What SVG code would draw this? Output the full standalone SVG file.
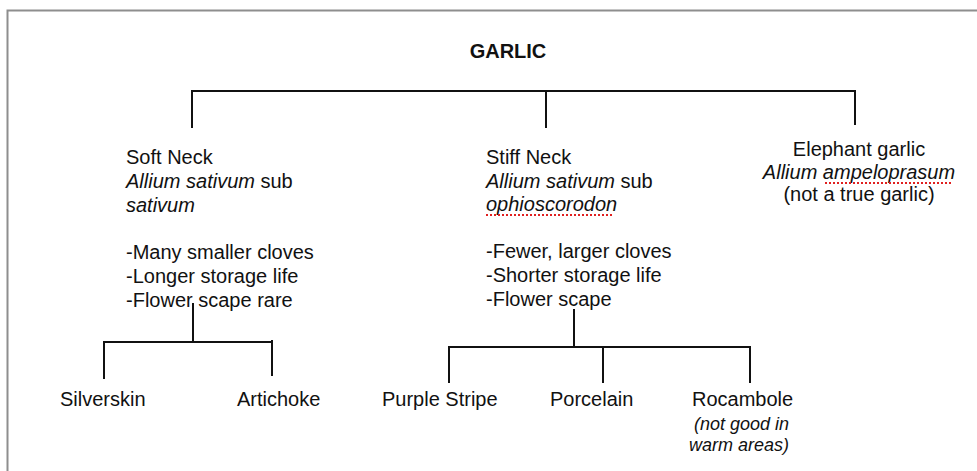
<svg xmlns="http://www.w3.org/2000/svg" width="977" height="471" viewBox="0 0 977 471">
<style>
text{font-family:"Liberation Sans",Arial,sans-serif;font-size:20px;fill:#111}
.i{font-style:italic}
.b{font-weight:bold}
.s{font-size:18px}
.c{stroke:#111;stroke-width:2;fill:none}
.sp{stroke:#e02020;stroke-width:2;stroke-dasharray:2 2;fill:none}
</style>
<rect width="977" height="471" fill="#fff"/>
<path d="M7.5 471V10.5H977" stroke="#8e8e8e" stroke-width="2" fill="none"/>
<g id="connectors">
<path class="c" d="M192 128V91H855V125M546 91V128"/>
<path class="c" d="M193 303V342M104 379V342H272M272 340V376"/>
<path class="c" d="M574 309V347M449 383V347H750V383M603 347V383"/>
</g>
<g id="garlic"><text class="b" x="508" y="58" text-anchor="middle">GARLIC</text></g>
<g id="softneck">
<text x="126" y="164">Soft Neck</text>
<text x="126" y="188"><tspan class="i">Allium sativum</tspan> sub</text>
<text x="126" y="212" class="i">sativum</text>
<text x="126" y="259">-Many smaller cloves</text>
<text x="126" y="283">-Longer storage life</text>
<text x="126" y="307">-Flower scape rare</text>
</g>
<g id="stiffneck">
<text x="486" y="164">Stiff Neck</text>
<text x="486" y="188"><tspan class="i">Allium sativum</tspan> sub</text>
<text x="486" y="211" class="i">ophioscorodon</text>
<path class="sp" d="M486 215H614"/>
<text x="486" y="258">-Fewer, larger cloves</text>
<text x="486" y="282">-Shorter storage life</text>
<text x="486" y="306">-Flower scape</text>
</g>
<g id="elephant">
<text x="859" y="156" text-anchor="middle">Elephant garlic</text>
<text x="859" y="179" text-anchor="middle" class="i">Allium ampeloprasum</text>
<path class="sp" d="M825 183H953"/>
<text x="859" y="201" text-anchor="middle">(not a true garlic)</text>
</g>
<g id="silverskin"><text x="60" y="406">Silverskin</text></g>
<g id="artichoke"><text x="237" y="406">Artichoke</text></g>
<g id="purplestripe"><text x="382" y="406">Purple Stripe</text></g>
<g id="porcelain"><text x="550" y="406">Porcelain</text></g>
<g id="rocambole">
<text x="692" y="406">Rocambole</text>
<text x="789" y="430" text-anchor="end" class="i s">(not good in</text>
<text x="789" y="451" text-anchor="end" class="i s">warm areas)</text>
</g>
</svg>
